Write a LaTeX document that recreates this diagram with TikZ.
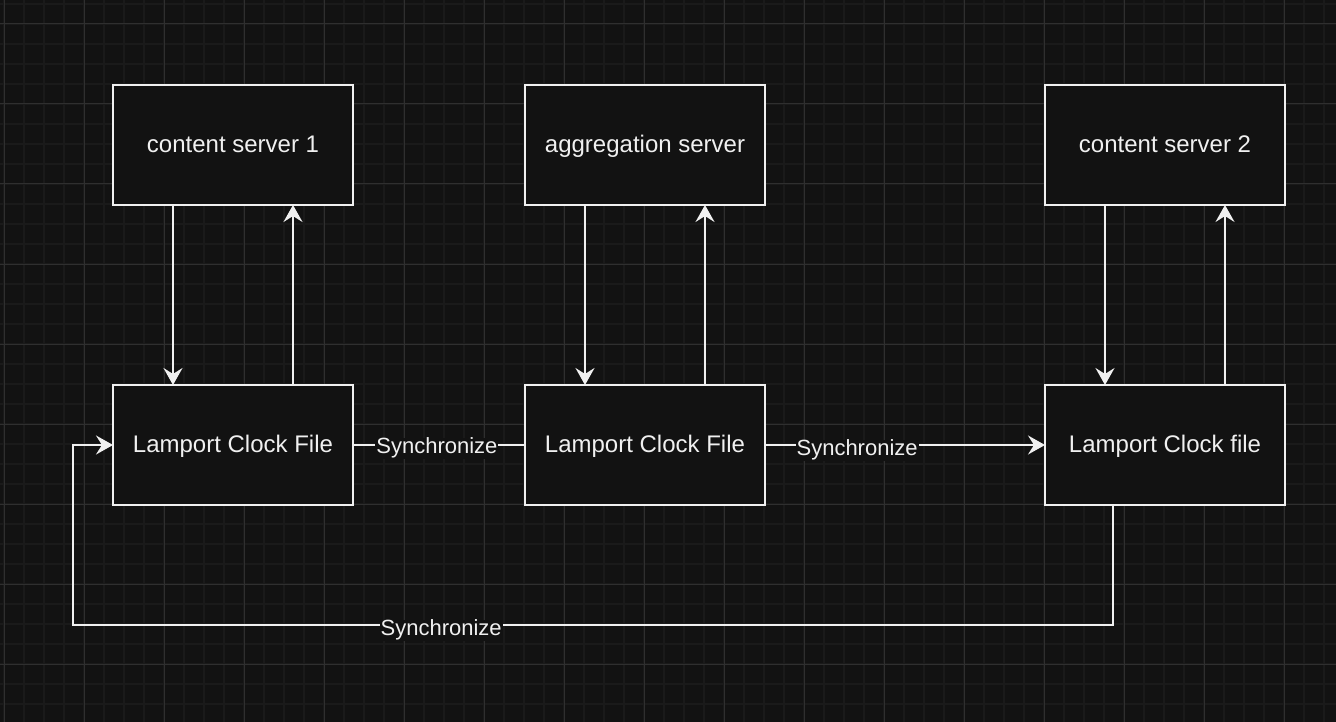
\documentclass[tikz,border=0pt]{standalone}
\usepackage{fontspec}
\setmainfont{Liberation Sans}
\usetikzlibrary{arrows.meta}
\definecolor{bg}{HTML}{121212}
\definecolor{gridminor}{HTML}{1A1A1A}
\definecolor{gridmajor}{HTML}{2F2F2F}
\definecolor{fg}{HTML}{F0F0F0}
\tikzset{
  box/.style={draw=fg, line width=2pt, fill=bg, minimum width=240pt, minimum height=120pt,
    text=fg, font=\fontsize{24}{28}\selectfont, inner sep=0pt, outer sep=0pt,
    text height=19pt, text depth=4pt},
  conn/.style={draw=fg, line width=2pt},
  arr/.style={conn, -{Stealth[length=17pt, width=19pt, inset=6pt]}},
  lbl/.style={fill=bg, text=fg, font=\fontsize{22}{26}\selectfont, inner sep=1pt,
    text height=15pt, text depth=4pt}
}
\begin{document}
\begin{tikzpicture}[x=1pt, y=-1pt]
\useasboundingbox (0,0) rectangle (1336,722);
\fill[bg] (0,0) rectangle (1336,722);
% minor grid
\foreach \i in {0,...,66} {
  \draw[gridminor, line width=1.5pt] ({4+20*\i},0) -- ({4+20*\i},722);
}
\foreach \j in {0,...,36} {
  \draw[gridminor, line width=1.5pt] (0,{4+20*\j}) -- (1336,{4+20*\j});
}
% major grid
\foreach \i in {0,...,16} {
  \draw[gridmajor, line width=1pt] ({4+80*\i},0) -- ({4+80*\i},722);
}
\foreach \j in {0,...,8} {
  \draw[gridmajor, line width=1pt] (0,{24+80*\j}) -- (1336,{24+80*\j});
}
% nodes
\node[box] (cs1) at (233,145) {content server 1};
\node[box] (agg) at (645,145) {aggregation server};
\node[box] (cs2) at (1165,145) {content server 2};
\node[box] (l1) at (233,445) {Lamport Clock File};
\node[box] (l2) at (645,445) {Lamport Clock File};
\node[box] (l3) at (1165,445) {Lamport Clock file};
% vertical arrows
\draw[arr] ([xshift=-60pt]cs1.south) -- ([xshift=-60pt]l1.north);
\draw[arr] ([xshift=60pt]l1.north) -- ([xshift=60pt]cs1.south);
\draw[arr] ([xshift=-60pt]agg.south) -- ([xshift=-60pt]l2.north);
\draw[arr] ([xshift=60pt]l2.north) -- ([xshift=60pt]agg.south);
\draw[arr] ([xshift=-60pt]cs2.south) -- ([xshift=-60pt]l3.north);
\draw[arr] ([xshift=60pt]l3.north) -- ([xshift=60pt]cs2.south);
% synchronize connectors
\draw[conn] (l1.east) -- node[lbl, pos=0.488, yshift=-3pt] {Synchronize} (l2.west);
\draw[arr] (l2.east) -- node[lbl, pos=0.329, yshift=-5pt] {Synchronize} (l3.west);
\coordinate (c1) at (1113,625);
\coordinate (c2) at (73,625);
\coordinate (c3) at (73,445);
\draw[arr] ([xshift=-52pt]l3.south) -- (c1) -- node[lbl, pos=0.646, yshift=-5pt] {Synchronize} (c2) -- (c3) -- (l1.west);
\end{tikzpicture}
\end{document}
